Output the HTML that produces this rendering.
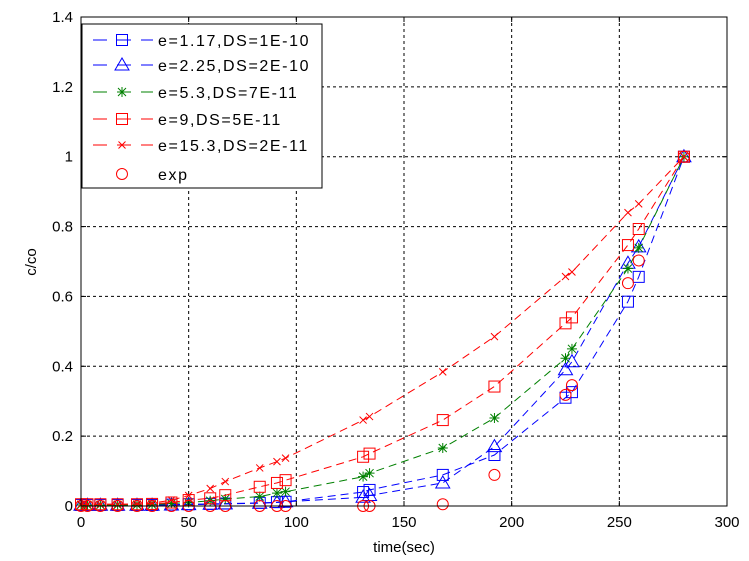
<!DOCTYPE html>
<html><head><meta charset="utf-8"><style>
body{margin:0;background:#fff;}
svg{display:block;font-family:"Liberation Sans",Arial,sans-serif;}
</style></head><body>
<svg id="chart" width="749" height="561" viewBox="0 0 749 561">
<rect x="0" y="0" width="749" height="561" fill="#fff"/>
<g id="grid"></g>
<g id="series"></g>
<g id="axes"></g>
<text x="404" y="552" font-size="15" text-anchor="middle">time(sec)</text>
<text x="0" y="0" font-size="15" text-anchor="middle" transform="translate(36,262) rotate(-90)">c/co</text>
<g id="legend"></g>
</svg>
<script>
const times = [0,3,9,17,26,33,42,50,60,67,83,91,95,131,134,168,192,225,228,254,259,280];
const s1 = [0.003,0.003,0.003,0.003,0.003,0.003,0.004,0.005,0.006,0.007,0.009,0.011,0.012,0.04,0.046,0.089,0.146,0.31,0.326,0.585,0.656,1];
const s2 = [0.002,0.002,0.002,0.002,0.002,0.002,0.003,0.004,0.005,0.006,0.008,0.01,0.012,0.025,0.03,0.066,0.17,0.39,0.413,0.695,0.742,1];
const s3 = [0.003,0.003,0.003,0.003,0.003,0.004,0.007,0.01,0.015,0.02,0.027,0.037,0.041,0.084,0.094,0.166,0.252,0.423,0.45,0.68,0.739,1];
const s4 = [0.005,0.005,0.005,0.005,0.005,0.006,0.01,0.017,0.022,0.031,0.055,0.066,0.074,0.141,0.15,0.246,0.342,0.523,0.54,0.747,0.793,1];
const s5 = [0.005,0.005,0.005,0.005,0.006,0.008,0.017,0.03,0.05,0.07,0.109,0.127,0.137,0.246,0.256,0.384,0.485,0.657,0.67,0.84,0.865,1];
const sExp = [0,0,0,0,0,0,0,0,0,0,0,0,0,0,0,0.005,0.089,0.318,0.346,0.638,0.703,1];
const xTicks = [0,50,100,150,200,250,300];
const yTicks = [0,0.2,0.4,0.6,0.8,1,1.2,1.4];
const seriesNames = ["e=1.17,DS=1E-10","e=2.25,DS=2E-10","e=5.3,DS=7E-11","e=9,DS=5E-11","e=15.3,DS=2E-11","exp"];

const L=81,R=727,T=17,B=506;
const xs=v=>L+(v-0)/(300)*(R-L);
const ys=v=>B-(v/1.4)*(B-T);
const NS="http://www.w3.org/2000/svg";
function mk(tag,attrs,parent){const e=document.createElementNS(NS,tag);for(const k in attrs)e.setAttribute(k,attrs[k]);parent.appendChild(e);return e;}
const grid=document.getElementById('grid'),axes=document.getElementById('axes'),ser=document.getElementById('series'),leg=document.getElementById('legend');

xTicks.forEach(t=>{
  const x=xs(t);
  if(t>0&&t<300){const g=mk('line',{x1:x,x2:x,y1:T,y2:B,stroke:'#000','stroke-dasharray':'3,3','stroke-width':1},grid);
  
  }
  const tl=mk('text',{x:x,y:B+21,'font-size':15,'text-anchor':'middle'},axes);tl.textContent=t;
  
  
  mk('line',{x1:x,x2:x,y1:B,y2:B-5,stroke:'#000'},axes);
  mk('line',{x1:x,x2:x,y1:T,y2:T+5,stroke:'#000'},axes);
});
yTicks.forEach(t=>{
  const y=ys(t);
  if(t>0&&t<1.4){const g=mk('line',{x1:L,x2:R,y1:y,y2:y,stroke:'#000','stroke-dasharray':'3,3','stroke-width':1},grid);
  
  }
  const tl=mk('text',{x:L-8,y:y+5,'font-size':15,'text-anchor':'end'},axes);tl.textContent=String(t);
  
  
  mk('line',{x1:L,x2:L+5,y1:y,y2:y,stroke:'#000'},axes);
  mk('line',{x1:R,x2:R-5,y1:y,y2:y,stroke:'#000'},axes);
});
const fr=mk('rect',{x:L,y:T,width:R-L,height:B-T,fill:'none',stroke:'#000','stroke-width':1},axes);



function marker(type,x,y,color,parent){
  if(type==='sq')mk('rect',{x:x-5.5,y:y-5.5,width:11,height:11,fill:'none',stroke:color},parent);
  else if(type==='tri')mk('polygon',{points:`${x},${y-7} ${x-7},${y+5} ${x+7},${y+5}`,fill:'none',stroke:color},parent);
  else if(type==='star'){mk('path',{d:`M${x-5},${y}H${x+5}M${x},${y-5}V${y+5}M${x-4},${y-4}L${x+4},${y+4}M${x-4},${y+4}L${x+4},${y-4}`,stroke:color},parent);}
  else if(type==='x'){mk('path',{d:`M${x-3.5},${y-3.5}L${x+3.5},${y+3.5}M${x-3.5},${y+3.5}L${x+3.5},${y-3.5}`,stroke:color},parent);}
  else if(type==='o')mk('circle',{cx:x,cy:y,r:5.5,fill:'none',stroke:color},parent);
}
const all=[s1,s2,s3,s4,s5,sExp];
const colors=['#0000ff','#0000ff','#008000','#ff0000','#ff0000','#ff0000'];
const marks=['sq','tri','star','sq','x','o'];
all.forEach((vals,i)=>{
  const g=mk('g',{},ser);
  
  
  if(i<5){
    const d=vals.map((v,j)=>(j?'L':'M')+xs(times[j]).toFixed(1)+','+ys(v).toFixed(1)).join('');
    mk('path',{d:d,fill:'none',stroke:colors[i],'stroke-dasharray':'8,5'},g);
  }
  vals.forEach((v,j)=>marker(marks[i],xs(times[j]),ys(v),colors[i],g));
});

const lb=mk('rect',{x:82,y:24,width:240,height:164,fill:'#fff',stroke:'#000'},leg);


const ly=[40,65,92,119,145,174];
seriesNames.forEach((n,i)=>{
  const g=mk('g',{},leg);
  
  
  const y=ly[i];
  if(i<5)mk('line',{x1:93,x2:153,y1:y,y2:y,stroke:colors[i],'stroke-dasharray':'14,10'},g);
  marker(marks[i],122,y,colors[i],g);
  const t=mk('text',{x:158,y:y+6,'font-size':16,'letter-spacing':1.6,fill:'#000'},g);t.textContent=n;
});
</script>
</body></html>
